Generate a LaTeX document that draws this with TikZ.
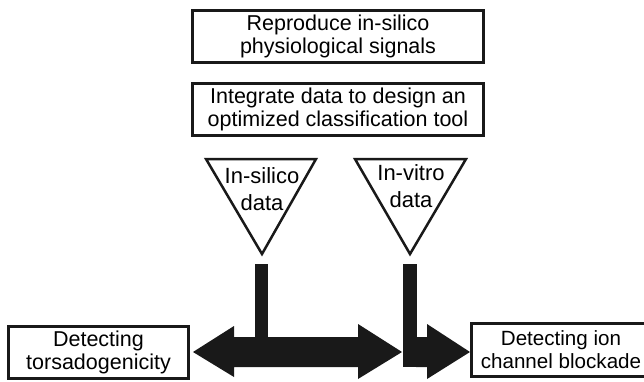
\documentclass[tikz,border=0pt]{standalone}
\usepackage{fontspec}
\setmainfont{Liberation Sans}
\begin{document}
\begin{tikzpicture}[x=1pt,y=-1pt,
  txt/.style={font=\fontsize{21.5}{23}\selectfont, align=center, inner sep=0pt},
  trit/.style={font=\fontsize{22}{27}\selectfont, align=center, inner sep=0pt},
  box/.style={txt, draw=black!90, line width=3pt, fill=white},
  tri/.style={draw=black!90, line width=2.5pt, line join=miter},
  blk/.style={fill=black!90}]
\useasboundingbox (0,0) rectangle (644,382);
% top boxes
\node[box, minimum width=291pt, minimum height=52pt] (b1) at (338,36.5) {Reproduce in-silico\\physiological signals};
\node[box, minimum width=291pt, minimum height=52pt] (b2) at (338,109.5) {Integrate data to design an\\optimized classification tool};
% triangles
\coordinate (t1a) at (206,159);
\coordinate (t1b) at (316,159);
\coordinate (t1c) at (262,254);
\draw[tri] (t1a) -- (t1b) -- (t1c) -- cycle;
\node[trit] (l1) at (262,189) {In-silico\\data};
\coordinate (t2a) at (355,159);
\coordinate (t2b) at (466,159);
\coordinate (t2c) at (410,254);
\draw[tri] (t2a) -- (t2b) -- (t2c) -- cycle;
\node[trit] (l2) at (411,186) {In-vitro\\data};
% bottom boxes
\node[box, minimum width=180pt, minimum height=52pt] (b3) at (98.5,352.5) {Detecting\\torsadogenicity};
\node[box, minimum width=180pt, minimum height=53pt, font=\fontsize{20.6}{23}\selectfont] (b4) at (561,350) {Detecting ion\\channel blockade};
% bars and arrows
\coordinate (bar1) at (255,264);
\coordinate (bar2) at (403,264);
\fill[blk] (bar1) rectangle (268,340);
\fill[blk] (bar2) rectangle (417,367);
\fill[blk] (193,352) -- (234,326) -- (234,337) -- (358,337) -- (358,324) -- (402,352)
  -- (358,379) -- (358,367) -- (234,367) -- (234,377) -- cycle;
\fill[blk] (416,337) -- (427,337) -- (427,324) -- (470,352) -- (427,379) -- (427,367)
  -- (416,367) -- cycle;
\end{tikzpicture}
\end{document}
